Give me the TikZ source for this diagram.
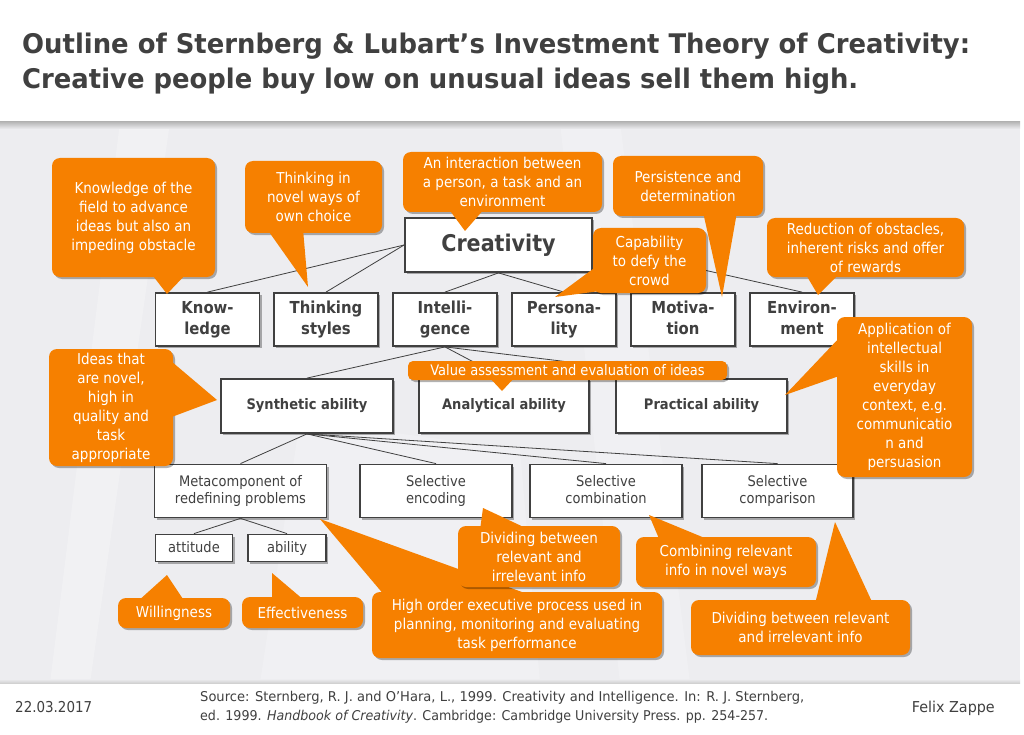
\documentclass[tikz,border=0pt]{standalone}
\usepackage{fontspec}
\usepackage{graphicx}
\setmainfont{DejaVu Sans}
\newfontfamily\bodyfont{DejaVu Sans}[FakeStretch=0.9]
\newfontfamily\titlefont{DejaVu Sans}[FakeStretch=0.8]
\usetikzlibrary{shadows}
\definecolor{corange}{RGB}{246,128,0}
\definecolor{cdark}{RGB}{64,64,64}
\definecolor{cpaper}{RGB}{237,237,240}
\begin{document}
\begin{tikzpicture}[x=1pt,y=-1pt,
  sz/.style 2 args={minimum width=#1pt, minimum height=#2pt},
  shd/.style={drop shadow={shadow xshift=2pt, shadow yshift=-2pt, opacity=0.3, fill=black}},
  box/.style={draw=cdark, line width=1.8pt, fill=white, text=cdark, align=center, inner sep=0pt, shd},
  boxA/.style={box, font=\bodyfont\bfseries\fontsize{16.5}{21}\selectfont},
  boxB/.style={box, font=\bodyfont\bfseries\fontsize{14.5}{19}\selectfont},
  boxC/.style={box, font=\bodyfont\fontsize{14.5}{17}\selectfont},
  call/.style={fill=corange, rounded corners=8pt, text=white, align=center, inner sep=0pt,
    font=\bodyfont\fontsize{15}{19}\selectfont, shd},
  ptr/.style={fill=corange},
  ln/.style={draw=cdark, line width=0.8pt}
]
\useasboundingbox (0,0) rectangle (1024,735);
% background
\fill[white] (0,0) rectangle (1024,735);
\fill[cpaper] (0,122) rectangle (1020,683);
\fill[white,opacity=0.25] (120,122) -- (170,122) -- (90,683) -- (50,683) -- cycle;
\fill[white,opacity=0.2] (560,122) -- (620,122) -- (690,683) -- (620,683) -- cycle;
\fill[white,opacity=0.2] (300,420) -- (520,450) -- (540,683) -- (260,683) -- cycle;
\shade[top color=black!28, bottom color=cpaper] (0,122) rectangle (1020,129);
\shade[top color=cpaper, bottom color=black!18] (0,679) rectangle (1020,683);
% title
\node[anchor=base west, inner sep=0pt, text=cdark] (title1) at (22,54)
  {\resizebox{948pt}{\height}{\titlefont\bfseries\fontsize{27}{27}\selectfont Outline of Sternberg \& Lubart’s Investment Theory of Creativity:}};
\node[anchor=base west, inner sep=0pt, text=cdark] (title2) at (22,89)
  {\resizebox{836pt}{\height}{\titlefont\bfseries\fontsize{27}{27}\selectfont Creative people buy low on unusual ideas sell them high.}};
% footer
\node[anchor=base west, inner sep=0pt, text=cdark] (date) at (15,712)
  {\resizebox{77pt}{\height}{\titlefont\fontsize{15}{15}\selectfont 22.03.2017}};
\node[anchor=base west, inner sep=0pt, text=cdark] (src1) at (200,701)
  {\resizebox{604pt}{\height}{\titlefont\fontsize{13.5}{13.5}\selectfont Source: Sternberg, R. J. and O’Hara, L., 1999. Creativity and Intelligence. In: R. J. Sternberg,}};
\node[anchor=base west, inner sep=0pt, text=cdark] (src2) at (200,720)
  {\resizebox{568pt}{\height}{\titlefont\fontsize{13.5}{13.5}\selectfont ed. 1999. \textit{Handbook of Creativity}. Cambridge: Cambridge University Press. pp. 254-257.}};
\node[anchor=base east, inner sep=0pt, text=cdark] (author) at (995,712)
  {\resizebox{83pt}{\height}{\titlefont\fontsize{15}{15}\selectfont Felix Zappe}};
% boxes
\node[box, sz={187}{54}, font=\bodyfont\bfseries\fontsize{23}{23}\selectfont] (cr) at (498.5,245) {Creativity};
\node[boxA, sz={104}{53}] (kn) at (207.5,319.5) {Know-\\ledge\vphantom{gy}};
\node[boxA, sz={104}{53}] (ts) at (326,319.5) {Thinking\\styles\vphantom{gy}};
\node[boxA, sz={104}{53}] (in) at (445,319.5) {Intelli-\\gence\vphantom{gy}};
\node[boxA, sz={104}{53}] (pe) at (564,319.5) {Persona-\\lity\vphantom{gy}};
\node[boxA, sz={104}{53}] (mo) at (683,319.5) {Motiva-\\tion\vphantom{gy}};
\node[boxA, sz={104}{53}] (en) at (802,319.5) {Environ-\\ment\vphantom{gy}};
\node[boxB, sz={172}{54}] (sy) at (307,406) {Synthetic ability\vphantom{gy}};
\node[boxB, sz={170}{54}] (an) at (504,406) {Analytical ability\vphantom{gy}};
\node[boxB, sz={171}{54}] (pr) at (701.5,406) {Practical ability\vphantom{gy}};
\node[boxC, sz={172}{53}] (me) at (240.5,491) {Metacomponent of\\redefining problems\vphantom{gy}};
\node[boxC, sz={152}{53}] (se) at (436,491) {Selective\\encoding\vphantom{gy}};
\node[boxC, sz={152}{53}] (sc) at (606,491) {Selective\\combination\vphantom{gy}};
\node[boxC, sz={151}{53}] (sp) at (777.5,491) {Selective\\comparison\vphantom{gy}};
\node[boxC, sz={77}{27}] (att) at (194,548) {attitude\vphantom{gy}};
\node[boxC, sz={78}{27}] (abl) at (287,548) {ability\vphantom{gy}};
% connectors
\draw[ln] (cr.west) -- (kn.north);
\draw[ln] (cr.west) -- (ts.north);
\draw[ln] (cr.south) -- (in.north);
\draw[ln] (cr.south) -- (pe.north);
\draw[ln] (cr.east) -- (mo.north);
\draw[ln] (cr.east) -- (en.north);
\draw[ln] (in.south) -- (sy.north);
\draw[ln] (in.south) -- (an.north);
\draw[ln] (in.south) -- (pr.north);
\draw[ln] (sy.south) -- (me.north);
\draw[ln] (sy.south) -- (se.north);
\draw[ln] (sy.south) -- (sc.north);
\draw[ln] (sy.south) -- (sp.north);
\draw[ln] (me.south) -- (att.north);
\draw[ln] (me.south) -- (abl.north);
% callouts
\node[call, sz={163}{119}] (c1) at (133.5,217.5) {Knowledge of the\\field to advance\\ideas but also an\\impeding obstacle};
\coordinate (t1) at (167,294);
\fill[ptr] (150,272) -- (t1) -- (188,272) -- cycle;
\node[call, sz={137}{72}] (c2) at (313.5,197) {Thinking in\\novel ways of\\own choice};
\coordinate (t2) at (308,287);
\fill[ptr] (267,229) -- (t2) -- (303,229) -- cycle;
\node[call, sz={199}{60}] (c3) at (502.5,182) {An interaction between\\a person, a task and an\\environment};
\coordinate (t3) at (465,231);
\fill[ptr] (448,208) -- (t3) -- (485,208) -- cycle;
\node[call, sz={150}{60}] (c4) at (688,186) {Persistence and\\determination};
\coordinate (t4) at (722,297);
\fill[ptr] (703,212) -- (t4) -- (737,212) -- cycle;
\node[call, sz={113}{65}] (c5) at (649.5,260.5) {Capability\\to defy the\\crowd};
\coordinate (t5) at (555,297);
\fill[ptr] (597,266) -- (t5) -- (615,289) -- cycle;
\node[call, sz={197}{59}] (c6) at (865.5,247.5) {Reduction of obstacles,\\inherent risks and offer\\of rewards};
\coordinate (t6) at (818,295);
\fill[ptr] (805,273) -- (t6) -- (840,273) -- cycle;
\node[call, sz={135}{160}] (c7) at (904.5,397) {Application of\\intellectual\\skills in\\everyday\\context, e.g.\\communicatio\\n and\\persuasion};
\coordinate (t7) at (785,395);
\fill[ptr] (842,335) -- (t7) -- (842,375) -- cycle;
\node[call, sz={124}{117}] (c8) at (111,407.5) {Ideas that\\are novel,\\high in\\quality and\\task\\appropriate};
\coordinate (t8) at (217,400);
\fill[ptr] (165,356) -- (t8) -- (169,418) -- cycle;
\node[call, sz={319}{19}, rounded corners=5pt, font=\bodyfont\fontsize{14.5}{17}\selectfont] (c9) at (567.5,370.5) {Value assessment and evaluation of ideas};
\coordinate (t9) at (502,391);
\fill[ptr] (488,376) -- (t9) -- (516,376) -- cycle;
\node[call, sz={290}{66}] (c12) at (517,625) {High order executive process used in\\planning, monitoring and evaluating\\task performance};
\coordinate (t12) at (320,519);
\fill[ptr] (385,596) -- (t12) -- (533,596) -- cycle;
\node[call, sz={162}{61}] (c10) at (539,556.5) {Dividing between\\relevant and\\irrelevant info};
\coordinate (t10) at (483,508);
\fill[ptr] (480,530) -- (t10) -- (530,530) -- cycle;
\node[call, sz={180}{50}] (c11) at (726,562) {Combining relevant\\info in novel ways};
\coordinate (t11) at (649,515);
\fill[ptr] (660,541) -- (t11) -- (712,541) -- cycle;
\node[call, sz={219}{55}] (c13) at (800.5,627.5) {Dividing between relevant\\and irrelevant info};
\coordinate (t13) at (835,522);
\fill[ptr] (815,604) -- (t13) -- (873,604) -- cycle;
\node[call, sz={112}{30}] (c14) at (174,613) {Willingness};
\coordinate (t14) at (167,575);
\fill[ptr] (137,602) -- (t14) -- (185,602) -- cycle;
\node[call, sz={121}{31}] (c15) at (302.5,612.5) {Effectiveness};
\coordinate (t15) at (272,573);
\fill[ptr] (272,601) -- (t15) -- (305,601) -- cycle;
\end{tikzpicture}
\end{document}
